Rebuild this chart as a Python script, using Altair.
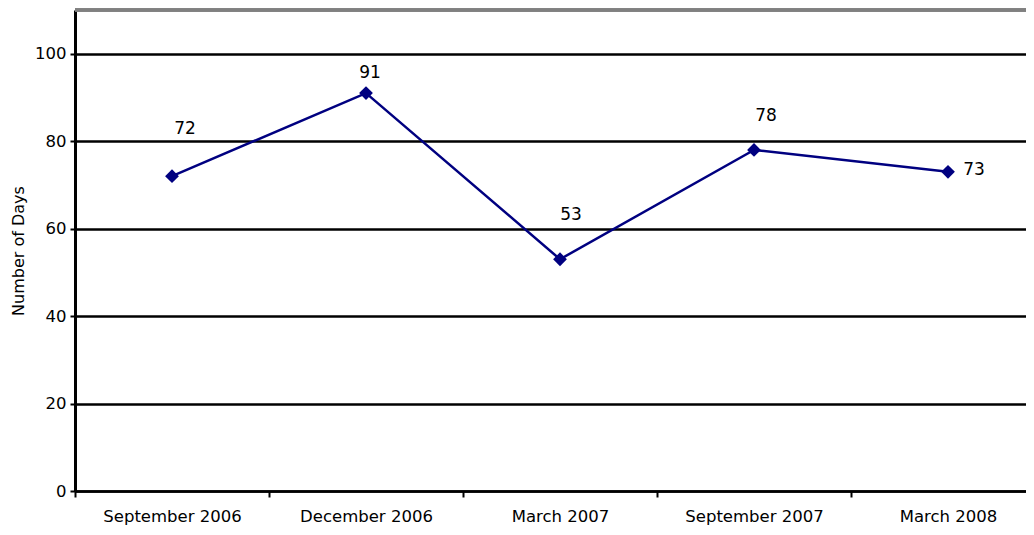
import altair as alt
import pandas as pd

periods = ["September 2006", "December 2006", "March 2007", "September 2007", "March 2008"]
days = [72, 91, 53, 78, 73]
y_ticks = [0, 20, 40, 60, 80, 100]

df = pd.DataFrame({"period": periods, "days": days})

# label offsets (style only): dx, dy per point
label_offsets = [(13, -47), (4, -20), (11, -44), (12, -34), (26, -2)]

FONT = "DejaVu Sans"

x_enc = alt.X(
    "period:N",
    sort=periods,
    title=None,
    scale=alt.Scale(range=[0, 970], paddingInner=0, paddingOuter=0),
    axis=alt.Axis(
        labelAngle=0, labelFont=FONT, labelFontSize=16.5, labelColor="black",
        labelPadding=11, tickColor="black", tickSize=6, tickWidth=2, tickBand="extent",
        domainColor="black", domainWidth=2.5, grid=False,
    ),
)
y_enc = alt.Y(
    "days:Q",
    title="Number of Days",
    scale=alt.Scale(domain=[0, 110], nice=False),
    axis=alt.Axis(
        values=y_ticks, labelFont=FONT, labelFontSize=16.5, labelColor="black",
        labelPadding=4, tickColor="black", tickSize=5, tickWidth=2,
        domainColor="black", domainWidth=3,
        grid=True, gridColor="black", gridWidth=2.5,
        titleFont=FONT, titleFontSize=16, titleFontWeight="normal",
        titleColor="black", titlePadding=8,
    ),
)

base = alt.Chart(df)

line = base.mark_line(color="#000080", strokeWidth=2.5).encode(x=x_enc, y=y_enc)
points = base.mark_point(shape="diamond", filled=True, size=190, color="#000080", opacity=1).encode(
    x=alt.X("period:N", sort=periods), y="days:Q"
)
top_rule = alt.Chart(df).mark_rule(color="#808080", strokeWidth=3).encode(
    y=alt.datum(110), x=alt.value(0), x2=alt.value(970)
)

labels = []
for i, (p, (dx, dy)) in enumerate(zip(periods, label_offsets)):
    labels.append(
        base.transform_filter(alt.datum.period == p)
        .mark_text(font=FONT, fontSize=17, color="black", dx=dx, dy=dy)
        .encode(x=alt.X("period:N", sort=periods), y="days:Q", text="days:Q")
    )

chart = (
    alt.layer(line, top_rule, points, *labels)
    .properties(
        width=951, height=481,
        autosize=alt.AutoSizeParams(type="none"),
        padding={"left": 67, "top": 2, "right": 0, "bottom": 35},
    )
    .configure_view(stroke=None)
)

chart.save("out.html", embed_options={"renderer": "svg", "actions": False})
